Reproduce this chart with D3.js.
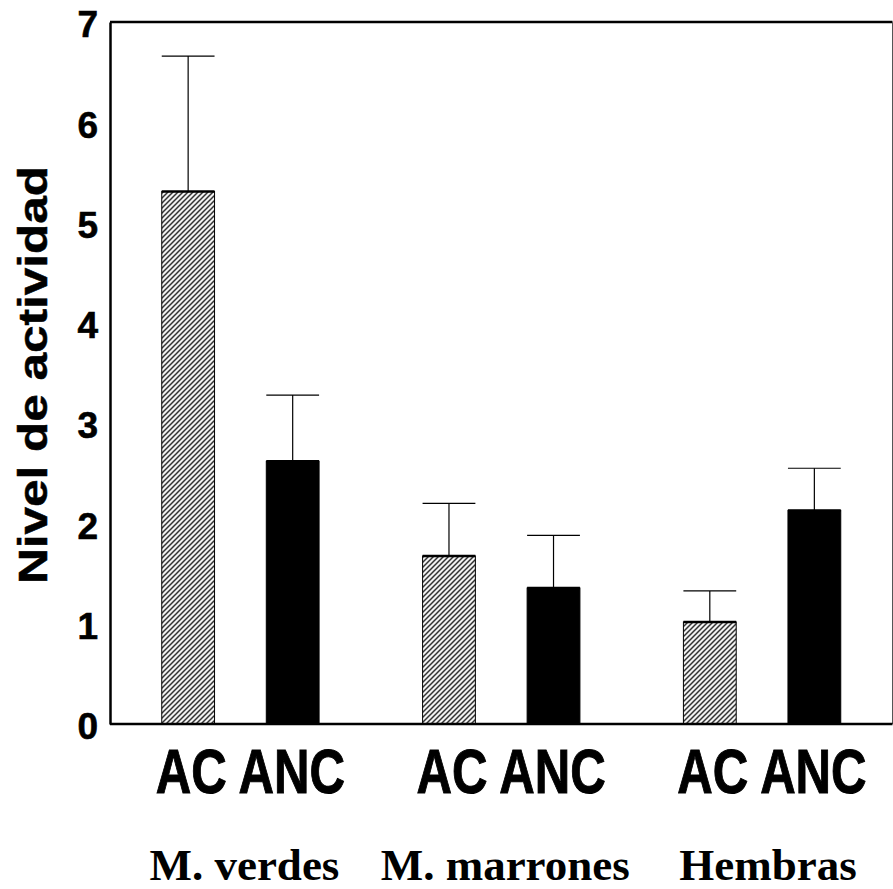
<!DOCTYPE html>
<html><head><meta charset="utf-8">
<script src="https://cdn.jsdelivr.net/npm/d3@7"></script>
<style>html,body{margin:0;padding:0;background:#fff;}</style>
</head><body>
<script>
const groups = ["M. verdes", "M. marrones", "Hembras"];
const types = ["AC", "ANC"];
const acValues = [5.31, 1.675, 1.017];
const acErrors = [1.35, 0.525, 0.31];
const ancValues = [2.62, 1.356, 2.13];
const ancErrors = [0.66, 0.525, 0.42];
const yTicks = [0, 1, 2, 3, 4, 5, 6, 7];
const yTitle = "Nivel de actividad";

const W = 893, H = 889;
const pLeft = 110, pRight = 892.5, pTop = 22, pBottom = 724;

const rows = [];
groups.forEach((g, i) => {
  rows.push({group: g, type: "AC", value: acValues[i], err: acErrors[i]});
  rows.push({group: g, type: "ANC", value: ancValues[i], err: ancErrors[i]});
});

const svg = d3.select("body").append("svg").attr("width", W).attr("height", H);
const defs = svg.append("defs");
const pat = defs.append("pattern").attr("id", "hatch")
  .attr("patternUnits", "userSpaceOnUse").attr("width", 5).attr("height", 5);
pat.append("rect").attr("width", 5).attr("height", 5).attr("fill", "#f2f2f2");
pat.append("path").attr("d", "M-1,1 L1,-1 M0,5 L5,0 M4,6 L6,4")
  .attr("stroke", "#333").attr("stroke-width", 1.5);

const x0 = d3.scaleBand().domain(groups).range([pLeft, pRight]);
const x1 = d3.scaleBand().domain(types).range([0, x0.bandwidth()]).paddingInner(0.495).paddingOuter(0.495);
const y = d3.scaleLinear().domain([0, 7]).range([pBottom, pTop]);

// frame
svg.append("line").attr("x1", pLeft).attr("x2", pRight).attr("y1", pTop).attr("y2", pTop)
  .attr("stroke", "#000").attr("stroke-width", 2.5);
svg.append("line").attr("x1", pRight).attr("x2", pRight).attr("y1", pTop).attr("y2", pBottom)
  .attr("stroke", "#555").attr("stroke-width", 1);

const g = svg.append("g");
const bx = d => x0(d.group) + x1(d.type);
const bw = x1.bandwidth();

// error bars
g.selectAll(".err").data(rows).join("line")
  .attr("x1", d => bx(d) + bw / 2).attr("x2", d => bx(d) + bw / 2)
  .attr("y1", d => y(d.value)).attr("y2", d => y(d.value + d.err))
  .attr("stroke", "#000").attr("stroke-width", 1.2);
g.selectAll(".cap").data(rows).join("line")
  .attr("x1", d => bx(d)).attr("x2", d => bx(d) + bw)
  .attr("y1", d => y(d.value + d.err)).attr("y2", d => y(d.value + d.err))
  .attr("stroke", "#000").attr("stroke-width", 1.2);

// bars
g.selectAll(".bar").data(rows).join("rect")
  .attr("x", d => bx(d)).attr("width", bw)
  .attr("y", d => y(d.value)).attr("height", d => y(0) - y(d.value))
  .attr("fill", d => d.type === "AC" ? "url(#hatch)" : "#000")
  .attr("stroke", "#000").attr("stroke-width", 1);
g.selectAll(".bartop").data(rows).join("line")
  .attr("x1", d => bx(d)).attr("x2", d => bx(d) + bw)
  .attr("y1", d => y(d.value)).attr("y2", d => y(d.value))
  .attr("stroke", "#000").attr("stroke-width", 2.5);

// axes
const yAxis = d3.axisLeft(y).tickValues(yTicks).tickSize(0).tickPadding(12).tickFormat(d3.format("d"));
const ya = svg.append("g").attr("transform", `translate(${pLeft},0)`).call(yAxis);
ya.select(".domain").attr("stroke", "#000").attr("stroke-width", 2.5);
ya.selectAll("text").attr("font-family", "Liberation Sans, Arial, sans-serif")
  .attr("font-weight", "bold").attr("font-size", 37).attr("fill", "#000")
  .attr("stroke", "#000").attr("stroke-width", 0.6)
  .attr("dy", "0.4em");

svg.append("line").attr("x1", pLeft).attr("x2", pRight).attr("y1", pBottom).attr("y2", pBottom)
  .attr("stroke", "#000").attr("stroke-width", 2.5);

// category labels
g.selectAll(".tlab").data(rows).join("text")
  .attr("transform", d => `translate(${bx(d) + bw / 2 + (d.type === "AC" ? 3 : -1)},793) scale(0.78,1)`)
  .attr("text-anchor", "middle")
  .attr("font-family", "Liberation Sans, Arial, sans-serif").attr("font-weight", "bold")
  .attr("font-size", 63).attr("fill", "#000")
  .attr("stroke", "#000").attr("stroke-width", 1)
  .text(d => d.type);

svg.selectAll(".glab").data(groups).join("text")
  .attr("x", (d, i) => x0(d) + x0.bandwidth() / 2 + [4, 4, 6][i]).attr("y", 880)
  .attr("text-anchor", "middle")
  .attr("font-family", "Liberation Serif, Times New Roman, serif").attr("font-weight", "bold")
  .attr("font-size", 45).attr("fill", "#000")
  .text(d => d);

svg.append("text")
  .attr("transform", "translate(47,375) rotate(-90)")
  .attr("text-anchor", "middle")
  .attr("font-family", "Liberation Sans, Arial, sans-serif").attr("font-weight", "bold")
  .attr("font-size", 41).attr("fill", "#000")
  .attr("stroke", "#000").attr("stroke-width", 0.5)
  .attr("textLength", 418).attr("lengthAdjust", "spacingAndGlyphs")
  .text(yTitle);
</script>
</body></html>
